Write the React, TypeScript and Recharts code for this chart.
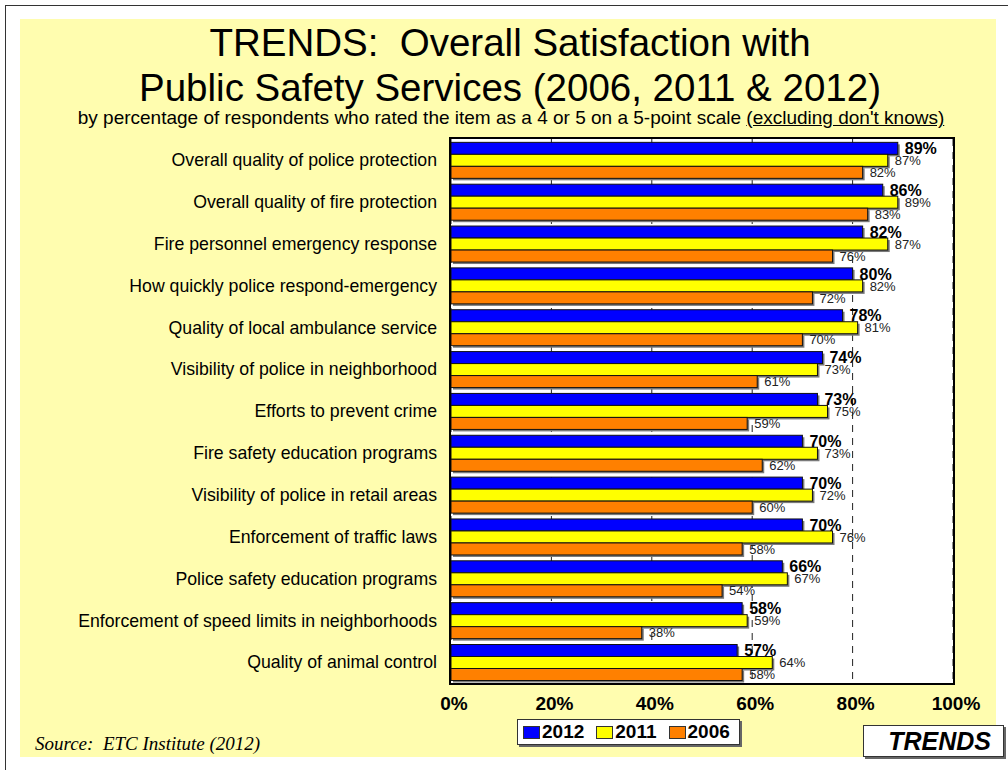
import { BarChart, Bar, XAxis, YAxis, CartesianGrid, LabelList } from 'recharts';

const CATEGORIES = [
  'Overall quality of police protection',
  'Overall quality of fire protection',
  'Fire personnel emergency response',
  'How quickly police respond-emergency',
  'Quality of local ambulance service',
  'Visibility of police in neighborhood',
  'Efforts to prevent crime',
  'Fire safety education programs',
  'Visibility of police in retail areas',
  'Enforcement of traffic laws',
  'Police safety education programs',
  'Enforcement of speed limits in neighborhoods',
  'Quality of animal control',
];
const Y2012 = [89, 86, 82, 80, 78, 74, 73, 70, 70, 70, 66, 58, 57];
const Y2011 = [87, 89, 87, 82, 81, 73, 75, 73, 72, 76, 67, 59, 64];
const Y2006 = [82, 83, 76, 72, 70, 61, 59, 62, 60, 58, 54, 38, 58];
const X_TICKS = [0, 20, 40, 60, 80, 100];

const SERIES = [
  { key: 'y2012', name: '2012', color: '#0000FF' },
  { key: 'y2011', name: '2011', color: '#FFFF00' },
  { key: 'y2006', name: '2006', color: '#FF8000' },
];

const data = CATEGORIES.map((name, i) => ({ name, y2012: Y2012[i], y2011: Y2011[i], y2006: Y2006[i] }));

const SANS = '"Liberation Sans", Arial, Helvetica, sans-serif';
const SERIF = '"Liberation Serif", "Times New Roman", serif';
const BG = '#FFFDAF';

// plot box, in page pixels
const PLOT_LEFT = 451;
const PLOT_TOP = 139;
const PLOT_RIGHT = 953;
const PLOT_BOTTOM = 683;

function ShadowBar(props: any) {
  const { x, y, width, height, fill } = props;
  if (!width || width <= 0) return null;
  return (
    <g>
      <rect x={x + 2} y={y + 2} width={width} height={height} fill="#7a7a7a" />
      <rect x={x} y={y} width={width} height={height} fill={fill} stroke="#111" strokeWidth={1} />
    </g>
  );
}

function XTick(props: any) {
  const { x, y, payload } = props;
  return (
    <text x={x + 3} y={y + 27} textAnchor="middle" fontFamily={SANS} fontWeight={700} fontSize={19} fill="#000">
      {payload.value}%
    </text>
  );
}

export default function App() {
  return (
    <div style={{ position: 'absolute', left: 0, top: 0, width: 1008, height: 770, overflow: 'hidden', background: '#fff' }}>
      {/* outer page frame */}
      <div style={{ position: 'absolute', left: 5, top: 5, width: 1020, height: 780, borderLeft: '1px solid #333', borderTop: '1px solid #333' }} />
      {/* yellow slide area */}
      <div style={{ position: 'absolute', left: 20, top: 19, width: 976, height: 738, background: BG }} />

      <div style={{ position: 'absolute', left: 20, top: 20, width: 980, textAlign: 'center', fontFamily: SANS, fontSize: 38.5, lineHeight: '45px', color: '#000' }}>
        TRENDS:&nbsp; Overall Satisfaction with
        <br />
        Public Safety Services (2006, 2011 &amp; 2012)
      </div>
      <div style={{ position: 'absolute', left: 20, top: 107, width: 982, textAlign: 'center', fontFamily: SANS, fontSize: 19, lineHeight: '22px', color: '#000', whiteSpace: 'nowrap' }}>
        by percentage of respondents who rated the item as a 4 or 5 on a 5-point scale{' '}
        <span style={{ textDecoration: 'underline' }}>(excluding don't knows)</span>
      </div>

      <div style={{ position: 'absolute', left: 0, top: 0 }}>
        <BarChart
          width={1008}
          height={770}
          data={data}
          layout="vertical"
          margin={{ top: PLOT_TOP, right: 1008 - PLOT_RIGHT, bottom: 770 - PLOT_BOTTOM - 30, left: 0 }}
          barCategoryGap="8%"
          barGap={0}
        >
          <CartesianGrid fill="#fff" horizontal={false} stroke="#222" strokeDasharray="7 6" />
          <XAxis
            type="number"
            domain={[0, 100]}
            ticks={X_TICKS}
            height={30}
            axisLine={false}
            tickLine={false}
            tickSize={0}
            tickMargin={0}
            tick={<XTick />}
            interval={0}
          />
          <YAxis
            type="category"
            dataKey="name"
            width={PLOT_LEFT}
            axisLine={false}
            tickLine={false}
            tickSize={0}
            tickMargin={14}
            interval={0}
            tick={{ fontSize: 17.7, fill: '#000', fontFamily: SANS }}
          />
          {SERIES.map((s, i) => (
            <Bar key={s.key} dataKey={s.key} name={s.name} fill={s.color} shape={<ShadowBar />} isAnimationActive={false}>
              <LabelList
                dataKey={s.key}
                position="right"
                offset={7}
                formatter={(v: any) => `${v}%`}
                fill={i === 0 ? '#000' : '#222'}
                fontSize={i === 0 ? 16 : 13}
                fontWeight={i === 0 ? 700 : 400}
                fontFamily={SANS}
              />
            </Bar>
          ))}
        </BarChart>
      </div>

      {/* plot frame */}
      <div
        style={{
          position: 'absolute',
          left: PLOT_LEFT - 2,
          top: PLOT_TOP - 2,
          width: PLOT_RIGHT - PLOT_LEFT,
          height: PLOT_BOTTOM - PLOT_TOP,
          border: '2px solid #000',
          pointerEvents: 'none',
        }}
      />

      {/* legend */}
      <div
        style={{
          position: 'absolute',
          left: 517,
          top: 719,
          width: 223,
          height: 26,
          background: '#fff',
          border: '1px solid #333',
          boxShadow: '2px 2px 0 #666',
          display: 'flex',
          alignItems: 'center',
          paddingLeft: 5,
          boxSizing: 'border-box',
          fontFamily: SANS,
          fontWeight: 700,
          fontSize: 19,
        }}
      >
        {SERIES.map((s) => (
          <div key={s.key} style={{ display: 'flex', alignItems: 'center', marginRight: 12 }}>
            <span style={{ display: 'inline-block', width: 15, height: 11, background: s.color, border: '1px solid #333', marginRight: 2 }} />
            <span>{s.name}</span>
          </div>
        ))}
      </div>

      <div style={{ position: 'absolute', left: 35, top: 733, fontFamily: SERIF, fontStyle: 'italic', fontSize: 19, lineHeight: '22px', color: '#000' }}>
        Source:&nbsp; ETC Institute (2012)
      </div>

      <div
        style={{
          position: 'absolute',
          left: 863,
          top: 725,
          width: 141,
          height: 32,
          background: '#fff',
          border: '1px solid #333',
          boxShadow: '2px 2px 0 #666',
          boxSizing: 'border-box',
          textAlign: 'right',
          paddingRight: 12,
          fontFamily: SANS,
          fontWeight: 700,
          fontStyle: 'italic',
          fontSize: 25,
          lineHeight: '30px',
          color: '#000',
        }}
      >
        TRENDS
      </div>
    </div>
  );
}
